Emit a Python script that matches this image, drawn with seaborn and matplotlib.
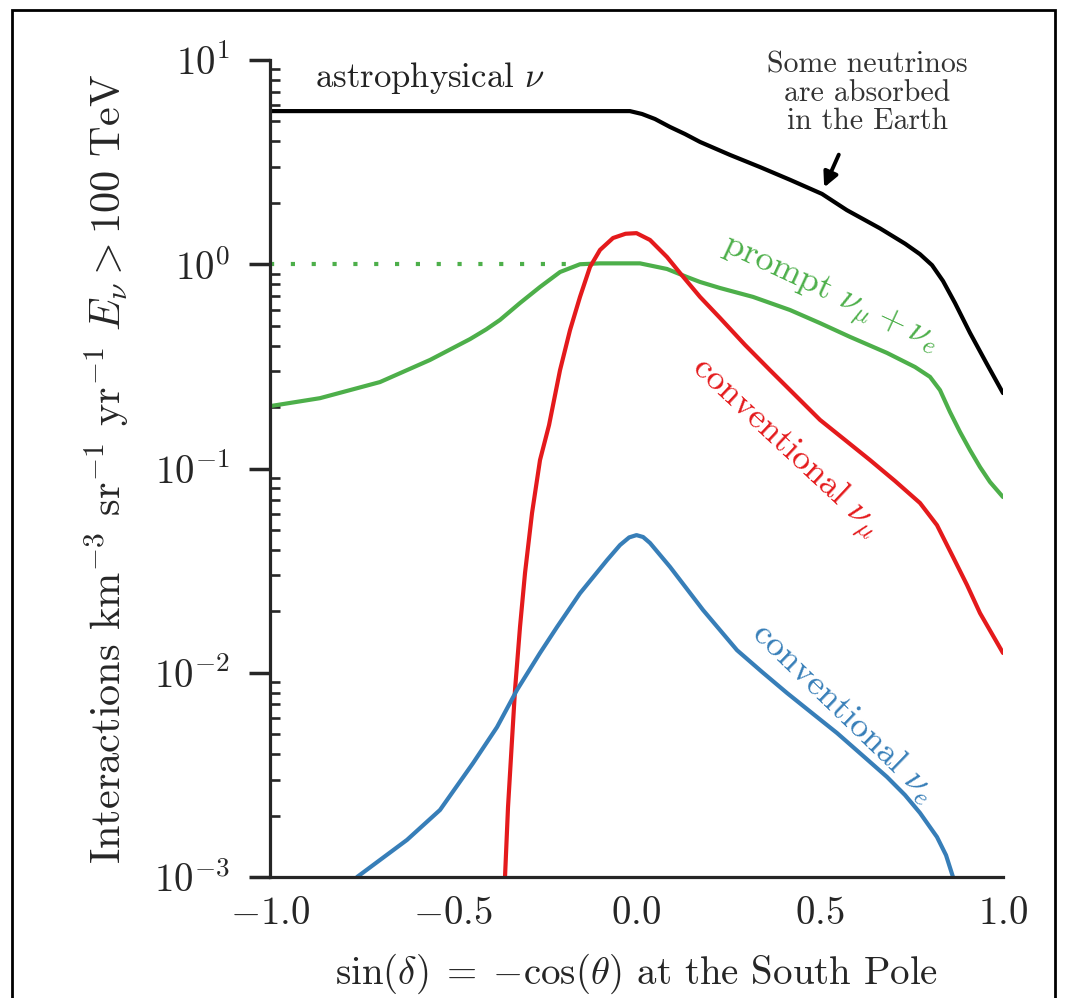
import numpy as np
import pandas as pd
import matplotlib
matplotlib.use("Agg")
import matplotlib.pyplot as plt
import seaborn as sns
from matplotlib.patches import Rectangle

# ---- data ----
astro_x = [-1.0, -0.018, 0.015, 0.0505, 0.0914, 0.1323, 0.1733, 0.255, 0.337, 0.419,
           0.506, 0.574, 0.664, 0.733, 0.7735, 0.8063, 0.8363, 0.869, 0.910, 0.956, 1.0]
astro_y = [5.62, 5.62, 5.44, 5.14, 4.70, 4.34, 3.97, 3.43, 2.99, 2.59,
           2.21, 1.84, 1.50, 1.26, 1.12, 0.99, 0.828, 0.646, 0.461, 0.325, 0.234]

prompt_x = [-1.0, -0.8636, -0.6999, -0.5634, -0.4543, -0.4100, -0.3724, -0.3179, -0.2633,
            -0.2087, -0.1542, -0.0996, -0.0450, 0.0095, 0.0832, 0.1378, 0.1733, 0.2278,
            0.3179, 0.4188, 0.5007, 0.5825, 0.6835, 0.7599, 0.8008, 0.8281, 0.8554,
            0.8827, 0.9100, 0.9372, 0.9645, 1.0]
prompt_y = [0.202, 0.221, 0.265, 0.340, 0.430, 0.480, 0.534, 0.646, 0.774,
            0.916, 1.0, 1.01, 1.01, 1.01, 0.948, 0.866, 0.819, 0.765,
            0.692, 0.597, 0.515, 0.441, 0.368, 0.314, 0.281, 0.242, 0.189,
            0.151, 0.123, 0.1017, 0.0859, 0.0725]
prompt_flat_x = [-1.0, -0.16]
prompt_flat_y = [1.0, 1.0]

convmu_x = [-0.3588, -0.3506, -0.3397, -0.3315, -0.3179, -0.3042, -0.2851, -0.2633, -0.2387,
            -0.2087, -0.1814, -0.1542, -0.1269, -0.0996, -0.0641, -0.030, 0.0, 0.0368,
            0.0832, 0.1187, 0.1733, 0.2278, 0.2960, 0.3643, 0.4325, 0.5007, 0.5689,
            0.6371, 0.7053, 0.7735, 0.8199, 0.8636, 0.9018, 0.9372, 1.0]
convmu_y = [0.001, 0.00220, 0.00469, 0.00824, 0.01675, 0.0308, 0.0605, 0.110, 0.163,
            0.303, 0.476, 0.692, 0.970, 1.175, 1.344, 1.41, 1.42, 1.315,
            1.085, 0.906, 0.692, 0.546, 0.403, 0.303, 0.229, 0.173, 0.138,
            0.110, 0.0869, 0.0678, 0.0528, 0.0369, 0.0269, 0.0196, 0.0125]

conve_x = [-0.7626, -0.6262, -0.5362, -0.4461, -0.3806, -0.3261, -0.2633, -0.2169, -0.1542,
           -0.0805, -0.0450, -0.020, 0.0, 0.018, 0.0368, 0.0914, 0.1814, 0.2742, 0.3424,
           0.4107, 0.4789, 0.5471, 0.6153, 0.6835, 0.7326, 0.7735, 0.8199, 0.8445, 0.8636]
conve_y = [0.001, 0.00152, 0.00213, 0.00361, 0.00542, 0.00824, 0.0125, 0.01675, 0.0245,
           0.0356, 0.0422, 0.0460, 0.0472, 0.0462, 0.0432, 0.0330, 0.0203, 0.0129, 0.0101,
           0.00796, 0.00635, 0.00507, 0.00396, 0.00309, 0.00252, 0.00206, 0.00157, 0.00128,
           0.001]

x_ticks = [-1.0, -0.5, 0.0, 0.5, 1.0]

# ---- style ----
sns.set_style("ticks")
plt.rcParams['font.family'] = ['cmr10', 'DejaVu Serif']
plt.rcParams['mathtext.fontset'] = 'cm'
plt.rcParams['axes.formatter.use_mathtext'] = True
plt.rcParams['axes.unicode_minus'] = True

BLACK = '#000000'
GREEN = '#4daf4a'
RED = '#e41a1c'
BLUE = '#377eb8'
LW = 3.0

fig = plt.figure(figsize=(10.66, 9.98), dpi=100)
ax = fig.add_axes([0.2533, 0.1212, 0.6876, 0.8187])

sns.lineplot(x=astro_x, y=astro_y, color=BLACK, lw=LW, ax=ax, sort=False, estimator=None)
sns.lineplot(x=prompt_flat_x, y=prompt_flat_y, color=GREEN, lw=LW, ax=ax, sort=False,
             estimator=None, linestyle=(0, (1, 4.0)))
sns.lineplot(x=prompt_x, y=prompt_y, color=GREEN, lw=LW, ax=ax, sort=False, estimator=None)
sns.lineplot(x=convmu_x, y=convmu_y, color=RED, lw=LW, ax=ax, sort=False, estimator=None)
sns.lineplot(x=conve_x, y=conve_y, color=BLUE, lw=LW, ax=ax, sort=False, estimator=None)

ax.set_yscale('log')
ax.set_xlim(-1.0, 1.0)
ax.set_ylim(1e-3, 1e1)
ax.set_xticks(x_ticks)
ax.set_xticklabels([f"${v:.1f}$" for v in x_ticks])

for s in ['top', 'right']:
    ax.spines[s].set_visible(False)
for s in ['left', 'bottom']:
    ax.spines[s].set_linewidth(2.3)

ax.tick_params(axis='x', which='both', length=0, pad=14, labelsize=28)
ax.tick_params(axis='y', which='major', direction='out', length=15, width=2.5, pad=14, labelsize=28)
ax.tick_params(axis='y', which='minor', direction='in', length=7, width=1.9)

ax.set_xlabel(r"$\sin(\delta)\;=\;{-}\cos(\theta)$ at the South Pole", fontsize=28, labelpad=14)
ax.set_ylabel(r"Interactions km$^{-3}$ sr$^{-1}$ yr$^{-1}$ $E_\nu > 100$ TeV", fontsize=30.5,
              labelpad=16)

# in-plot labels
ax.text(-0.563, 8.16, r"astrophysical $\nu$", fontsize=25, color='#222222',
        ha='center', va='center')
ax.text(0.630, 6.9, "Some neutrinos\nare absorbed\nin the Earth", fontsize=21.5,
        color='#333333', ha='center', va='center', linespacing=1.05, clip_on=False)
ax.annotate('', xy=(0.509, 2.31), xytext=(0.555, 3.54),
            arrowprops=dict(arrowstyle='-|>', color='k', lw=2.8, mutation_scale=22))

ax.text(0.528, 10 ** (1 - (295 - 60) / 204.25), r"prompt $\nu_\mu + \nu_e$", fontsize=26,
        color=GREEN, rotation=-25, rotation_mode='anchor', ha='center', va='center')
ax.text(0.405, 10 ** (1 - (448 - 60) / 204.25), r"conventional $\nu_\mu$", fontsize=26,
        color=RED, rotation=-43, rotation_mode='anchor', ha='center', va='center')
ax.text(0.563, 10 ** (1 - (712 - 60) / 204.25), r"conventional $\nu_e$", fontsize=26,
        color=BLUE, rotation=-44, rotation_mode='anchor', ha='center', va='center')

# outer frame
fig.patches.append(Rectangle((12 / 1066, -0.02), (1055 - 12) / 1066, 1 - 10 / 998 + 0.02,
                             transform=fig.transFigure, fill=False, edgecolor='k', lw=2.0))

fig.savefig("out.png", dpi=100)
